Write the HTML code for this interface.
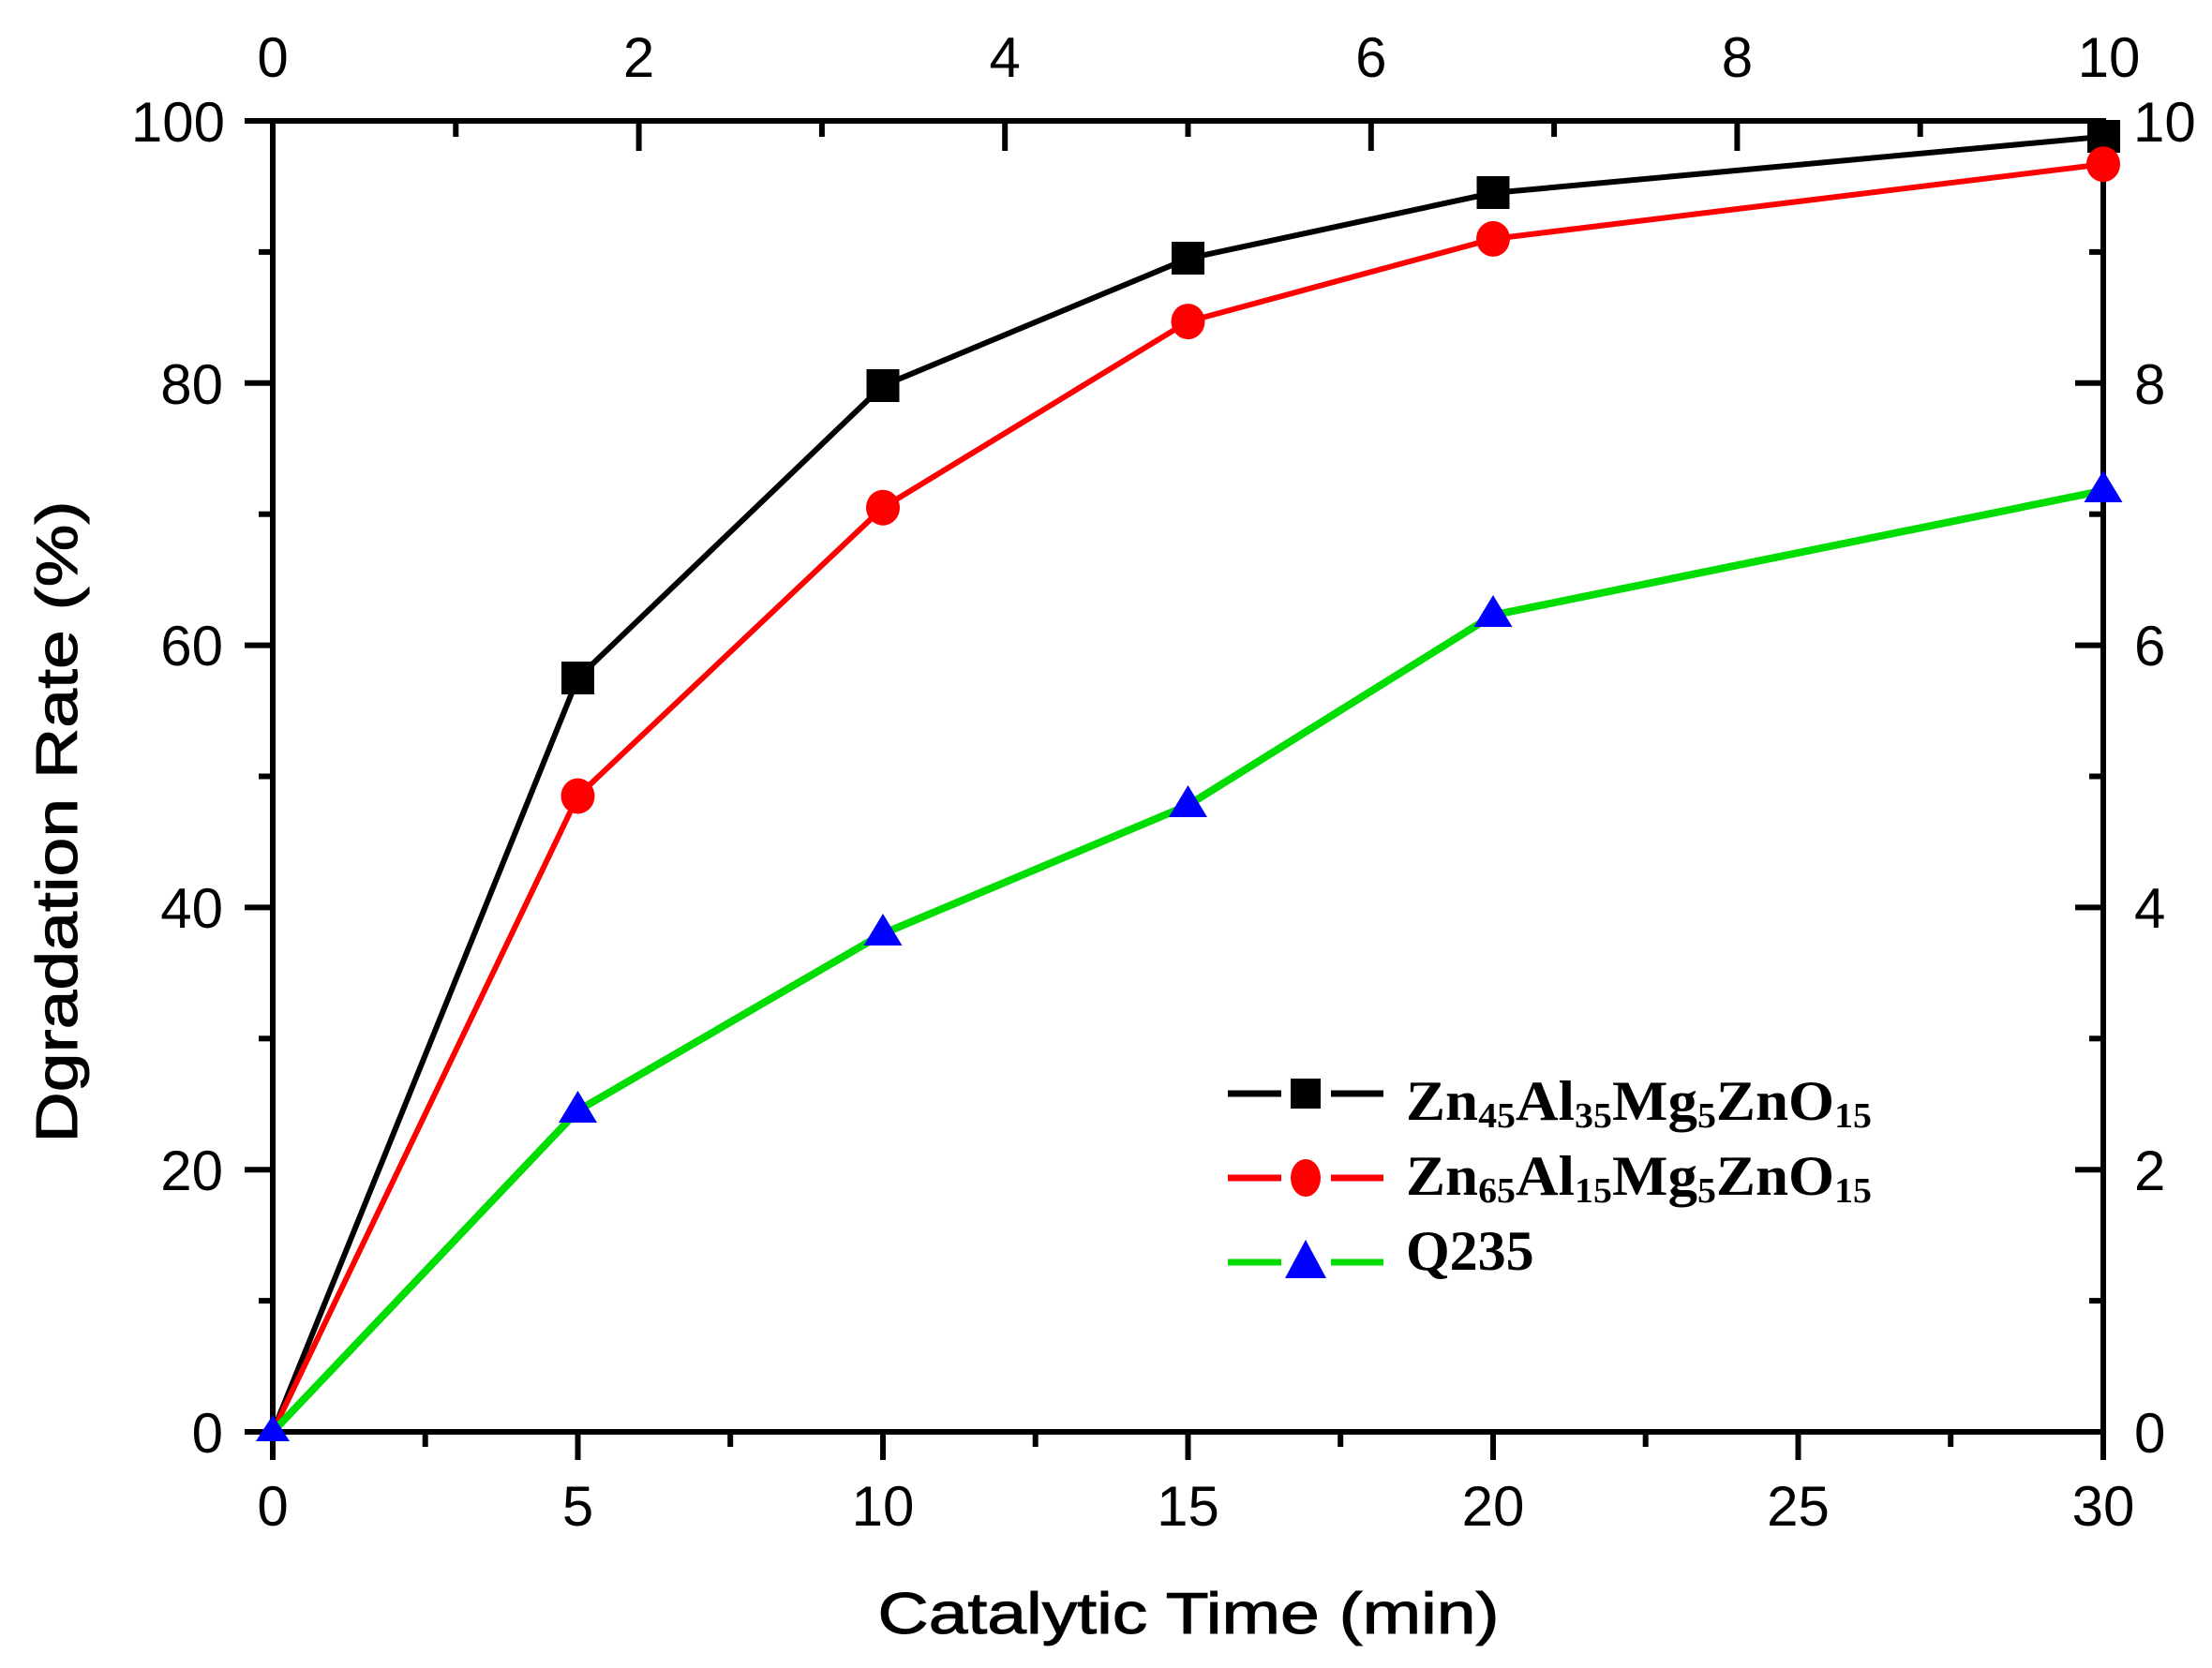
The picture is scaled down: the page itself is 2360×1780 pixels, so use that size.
<!DOCTYPE html>
<html><head><meta charset="utf-8"><style>html,body{margin:0;padding:0;background:#fff}</style></head>
<body>
<svg width="2360" height="1775" viewBox="0 0 2360 1775" xmlns="http://www.w3.org/2000/svg">
<g font-family="Liberation Sans, Arial, sans-serif" font-size="60" fill="#000">
<rect x="291" y="129" width="1953" height="1399" fill="none" stroke="#000" stroke-width="6"/>
<g stroke="#000" stroke-width="6">
<line x1="291" y1="1528" x2="291" y2="1558"/><line x1="616.5" y1="1528" x2="616.5" y2="1558"/><line x1="942" y1="1528" x2="942" y2="1558"/><line x1="1267.5" y1="1528" x2="1267.5" y2="1558"/><line x1="1593" y1="1528" x2="1593" y2="1558"/><line x1="1918.5" y1="1528" x2="1918.5" y2="1558"/><line x1="2244" y1="1528" x2="2244" y2="1558"/>
<line x1="453.7" y1="1528" x2="453.7" y2="1544"/><line x1="779.2" y1="1528" x2="779.2" y2="1544"/><line x1="1104.7" y1="1528" x2="1104.7" y2="1544"/><line x1="1430.2" y1="1528" x2="1430.2" y2="1544"/><line x1="1755.7" y1="1528" x2="1755.7" y2="1544"/><line x1="2081.2" y1="1528" x2="2081.2" y2="1544"/>
<line x1="681.6" y1="129" x2="681.6" y2="161"/><line x1="1072.2" y1="129" x2="1072.2" y2="161"/><line x1="1462.8" y1="129" x2="1462.8" y2="161"/><line x1="1853.4" y1="129" x2="1853.4" y2="161"/>
<line x1="486.3" y1="129" x2="486.3" y2="146"/><line x1="876.9" y1="129" x2="876.9" y2="146"/><line x1="1267.5" y1="129" x2="1267.5" y2="146"/><line x1="1658.1" y1="129" x2="1658.1" y2="146"/><line x1="2048.7" y1="129" x2="2048.7" y2="146"/>
<line x1="261" y1="1528" x2="291" y2="1528"/><line x1="261" y1="1248.2" x2="291" y2="1248.2"/><line x1="261" y1="968.4" x2="291" y2="968.4"/><line x1="261" y1="688.6" x2="291" y2="688.6"/><line x1="261" y1="408.8" x2="291" y2="408.8"/><line x1="261" y1="129" x2="291" y2="129"/>
<line x1="276" y1="1388.1" x2="291" y2="1388.1"/><line x1="276" y1="1108.3" x2="291" y2="1108.3"/><line x1="276" y1="828.5" x2="291" y2="828.5"/><line x1="276" y1="548.7" x2="291" y2="548.7"/><line x1="276" y1="268.9" x2="291" y2="268.9"/>
<line x1="2214" y1="1248.2" x2="2244" y2="1248.2"/><line x1="2214" y1="968.4" x2="2244" y2="968.4"/><line x1="2214" y1="688.6" x2="2244" y2="688.6"/><line x1="2214" y1="408.8" x2="2244" y2="408.8"/>
<line x1="2229" y1="1388.1" x2="2244" y2="1388.1"/><line x1="2229" y1="1108.3" x2="2244" y2="1108.3"/><line x1="2229" y1="828.5" x2="2244" y2="828.5"/><line x1="2229" y1="548.7" x2="2244" y2="548.7"/><line x1="2229" y1="268.9" x2="2244" y2="268.9"/>
</g>
<g text-anchor="middle">
<text x="291" y="1628">0</text><text x="616.5" y="1628">5</text><text x="942" y="1628">10</text><text x="1267.5" y="1628">15</text><text x="1593" y="1628">20</text><text x="1918.5" y="1628">25</text><text x="2244" y="1628">30</text>
<text x="291" y="82">0</text><text x="681.6" y="82">2</text><text x="1072.2" y="82">4</text><text x="1462.8" y="82">6</text><text x="1853.4" y="82">8</text><text x="2250" y="82">10</text>
</g>
<g text-anchor="end">
<text x="238" y="1550">0</text><text x="238" y="1270">20</text><text x="238" y="990">40</text><text x="238" y="710">60</text><text x="238" y="431">80</text><text x="240" y="151">100</text>
</g>
<g text-anchor="start">
<text x="2277" y="1550">0</text><text x="2277" y="1270">2</text><text x="2277" y="990">4</text><text x="2277" y="710">6</text><text x="2277" y="431">8</text><text x="2276" y="151">10</text>
</g>
<text x="1268" y="1743" text-anchor="middle" font-size="62" stroke="#000" stroke-width="1" textLength="663" lengthAdjust="spacingAndGlyphs">Catalytic Time (min)</text>
<text transform="translate(82,877) rotate(-90)" text-anchor="middle" font-size="62" stroke="#000" stroke-width="1" textLength="685" lengthAdjust="spacingAndGlyphs">Dgradation Rate (%)</text>
</g>
<polyline fill="none" stroke="#000" stroke-width="6" points="291,1528 616.5,723.6 942,411.6 1267.5,275.9 1593,205.9 2244,145.8"/>
<polyline fill="none" stroke="#f00" stroke-width="6" points="291,1528 616.5,849.5 942,541.7 1267.5,343.1 1593,254.9 2244,175.2"/>
<polyline fill="none" stroke="#0d0" stroke-width="8" points="291,1528 616.5,1185.2 942,996.4 1267.5,859.3 1593,656.4 2244,523.5"/>
<g fill="#000">
<rect x="599" y="706" width="35" height="35"/><rect x="924.5" y="394" width="35" height="35"/><rect x="1250" y="258" width="35" height="35"/><rect x="1575.5" y="188" width="35" height="35"/><rect x="2227" y="128" width="35" height="35"/>
</g>
<g fill="#f00">
<ellipse cx="616.5" cy="849.5" rx="18" ry="19"/><ellipse cx="942" cy="541.7" rx="18" ry="19"/><ellipse cx="1267.5" cy="343.1" rx="18" ry="19"/><ellipse cx="1593" cy="254.9" rx="18" ry="19"/><ellipse cx="2244" cy="175.2" rx="18" ry="19"/>
</g>
<g fill="#00f">
<polygon points="291,1510 309,1538 273,1538"/>
<polygon points="616.5,1164 637,1198 596,1198"/><polygon points="942,975 962.5,1009 921.5,1009"/><polygon points="1267.5,838 1288,872 1247,872"/><polygon points="1593,635 1613.5,669 1572.5,669"/><polygon points="2244,502 2264.5,536 2223.5,536"/>
</g>
<g stroke-width="7">
<line x1="1310" y1="1167" x2="1367" y2="1167" stroke="#000"/><line x1="1420" y1="1167" x2="1476" y2="1167" stroke="#000"/>
<line x1="1310" y1="1257" x2="1367" y2="1257" stroke="#f00"/><line x1="1420" y1="1257" x2="1476" y2="1257" stroke="#f00"/>
<line x1="1310" y1="1347" x2="1367" y2="1347" stroke="#0d0"/><line x1="1420" y1="1347" x2="1476" y2="1347" stroke="#0d0"/>
</g>
<rect x="1377" y="1151" width="32" height="32" fill="#000"/>
<ellipse cx="1393" cy="1257" rx="16" ry="20" fill="#f00"/>
<polygon points="1393,1323 1415,1364 1371,1364" fill="#00f"/>
<g font-family="Liberation Serif, Times New Roman, serif" font-weight="bold" font-size="60" fill="#000">
<text x="1500" y="1195" textLength="497" lengthAdjust="spacingAndGlyphs">Zn<tspan font-size="38" dy="8">45</tspan><tspan dy="-8">Al</tspan><tspan font-size="38" dy="8">35</tspan><tspan dy="-8">Mg</tspan><tspan font-size="38" dy="8">5</tspan><tspan dy="-8">ZnO</tspan><tspan font-size="38" dy="8">15</tspan></text>
<text x="1500" y="1275" textLength="497" lengthAdjust="spacingAndGlyphs">Zn<tspan font-size="38" dy="8">65</tspan><tspan dy="-8">Al</tspan><tspan font-size="38" dy="8">15</tspan><tspan dy="-8">Mg</tspan><tspan font-size="38" dy="8">5</tspan><tspan dy="-8">ZnO</tspan><tspan font-size="38" dy="8">15</tspan></text>
<text x="1500" y="1355">Q235</text>
</g>
</svg>
</body></html>
